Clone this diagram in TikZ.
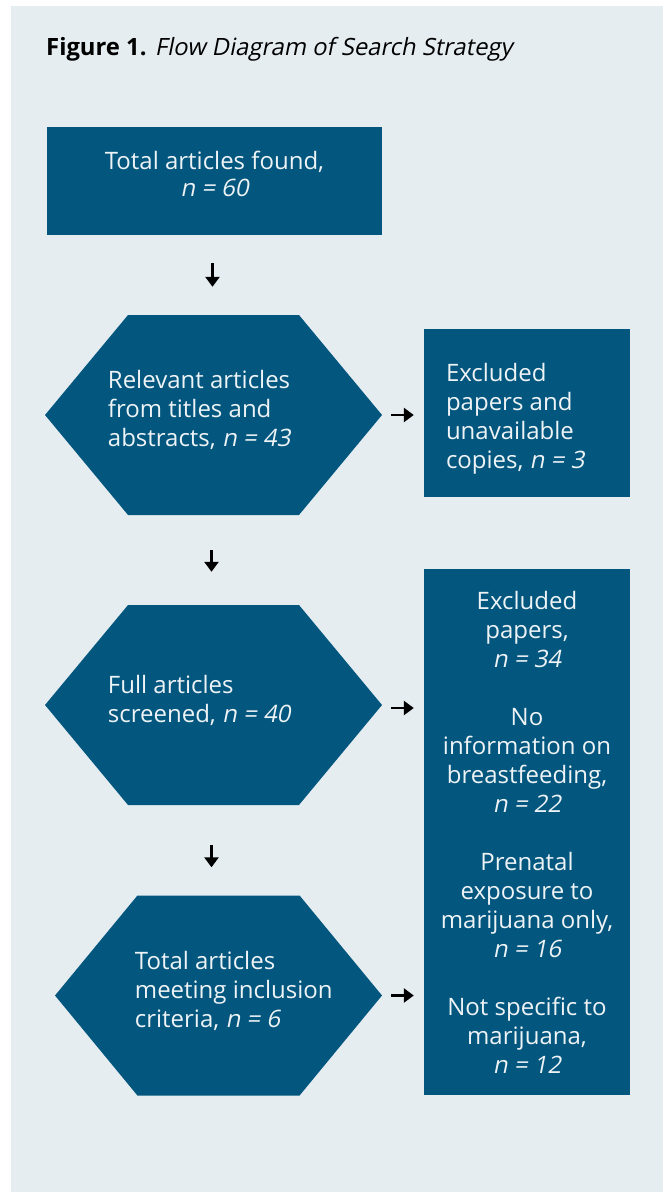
\documentclass[tikz,border=0pt]{standalone}
\usepackage{fontspec}
\setmainfont{Open Sans}
\newfontfamily\slfont{Open Sans}[FakeSlant=0.2]
\newcommand{\slnt}[1]{{\slfont #1}}
\usetikzlibrary{shapes.symbols,arrows.meta,positioning}
\definecolor{panel}{HTML}{E5EDF1}
\definecolor{boxblue}{HTML}{03577F}
\definecolor{boxtext}{HTML}{EEF3F6}

\tikzset{
  box/.style={fill=boxblue, text=boxtext, inner sep=0pt, font=\fontsize{24}{29}\selectfont},
  hexa/.style={shape=signal, signal to=west and east, signal pointer angle=100.6, fill=boxblue,
    minimum width=337pt, minimum height=200pt, inner sep=0pt},
  boxtxt/.style={text=boxtext, inner sep=0pt, align=left, font=\fontsize{24}{29}\selectfont},
  arr/.style={line width=2.7pt, -{Triangle[length=10pt,width=14pt]}},
}

\begin{document}
\begin{tikzpicture}[x=1pt,y=-1pt]
\fill[panel] (11,6) rectangle (663,1192);
\useasboundingbox (0,0) rectangle (663,1192);
\node[anchor=base west, inner sep=0pt, font=\fontsize{23.8}{26}\selectfont] (title) at (46,55)
  {\textbf{Figure 1.} \slnt{Flow Diagram of Search Strategy}};

% left column
\node[box, minimum width=335pt, minimum height=108pt, align=center, text depth=14pt,
  font=\fontsize{24}{27}\selectfont] (found) at (214.5,181)
  {Total articles found,\\ \slnt{n = 60}};
\node[hexa] (relevant) at (213.5,415) {};
\node[boxtxt, anchor=west] (relevanttxt) at ([xshift=63pt,yshift=5pt]relevant.west)
  {Relevant articles\\ from titles and\\ abstracts, \slnt{n = 43}};
\node[hexa] (screened) at (213.5,705) {};
\node[boxtxt, anchor=west] (screenedtxt) at ([xshift=63pt,yshift=5pt]screened.west)
  {Full articles\\ screened, \slnt{n = 40}};
\node[hexa, minimum width=327pt, signal pointer angle=101] (included) at (218.5,995.5) {};
\node[boxtxt, anchor=west] (includedtxt) at ([xshift=80pt,yshift=5pt]included.west)
  {Total articles\\ meeting inclusion\\ criteria, \slnt{n = 6}};

% right column
\node[box, minimum width=206pt, minimum height=168pt] (excl) at (527,413) {};
\node[boxtxt, anchor=west] (excltxt) at ([xshift=22pt,yshift=-5.5pt]excl.west)
  {Excluded\\ papers and\\ unavailable\\ copies, \slnt{n = 3}};
\node[box, minimum width=206pt, minimum height=526pt, align=center] (reasons) at (527,832)
  {Excluded\\ papers,\\ \slnt{n = 34}\\[29pt]
   No\\ information on\\ breastfeeding,\\ \slnt{n = 22}\\[29pt]
   Prenatal\\ exposure to\\ marijuana only,\\ \slnt{n = 16}\\[29pt]
   Not specific to\\ marijuana,\\ \slnt{n = 12}};

% arrows
\draw[arr, shorten <=28pt, shorten >=28pt] ([xshift=-2pt]found.south) -- ([xshift=-2pt]found.south |- relevant.north);
\draw[arr, shorten <=9pt, shorten >=10pt] (relevant.east) -- (relevant.east -| excl.west);
\draw[arr, shorten <=35pt, shorten >=33pt] ([xshift=-2pt]relevant.south) -- ([xshift=-2pt]screened.north);
\draw[arr, shorten <=9pt, shorten >=10pt] ([yshift=-3pt]screened.east) -- ([yshift=-3pt]screened.east -| reasons.west);
\draw[arr, shorten <=40pt, shorten >=28pt] ([xshift=-2pt]screened.south) -- ([xshift=-2pt]screened.south |- included.north);
\draw[arr, shorten <=9pt, shorten >=10pt] (included.east) -- (included.east -| reasons.west);
\end{tikzpicture}
\end{document}
